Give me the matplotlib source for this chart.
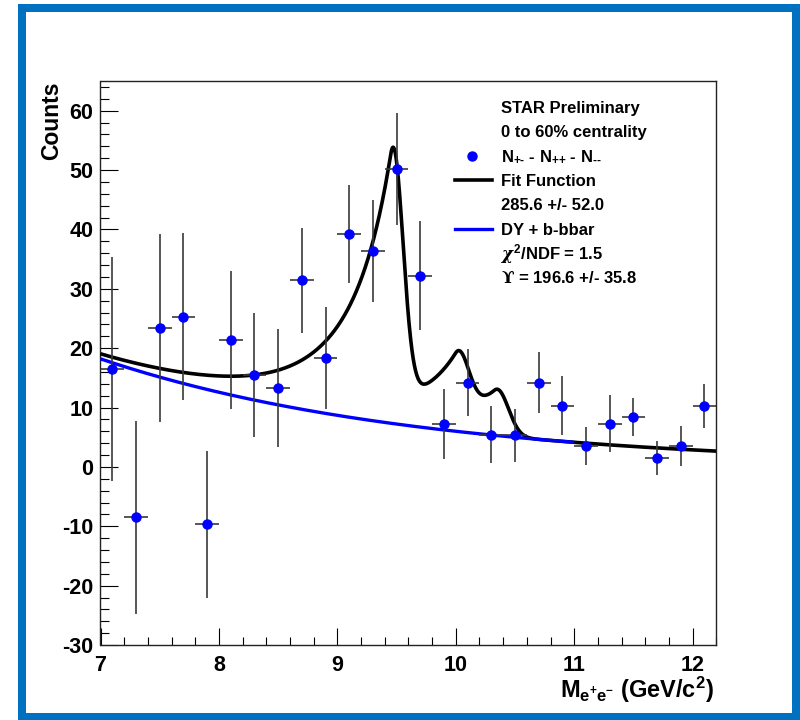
import numpy as np
import matplotlib
matplotlib.use('Agg')
import matplotlib.pyplot as plt
from matplotlib.patches import Rectangle
from matplotlib.lines import Line2D

plt.rcParams['font.family'] = ['Liberation Sans', 'DejaVu Sans']
plt.rcParams['font.weight'] = 'bold'
plt.rcParams['mathtext.fontset'] = 'custom'
plt.rcParams['mathtext.rm'] = 'Liberation Sans:bold'
plt.rcParams['mathtext.bf'] = 'Liberation Sans:bold'
plt.rcParams['mathtext.it'] = 'DejaVu Serif:italic'
plt.rcParams['mathtext.sf'] = 'DejaVu Serif'

# ---------------- data ----------------
mass_bins = [7.1, 7.3, 7.5, 7.7, 7.9, 8.1, 8.3, 8.5, 8.7, 8.9, 9.1, 9.3, 9.5,
             9.7, 9.9, 10.1, 10.3, 10.5, 10.7, 10.9, 11.1, 11.3, 11.5, 11.7,
             11.9, 12.1]
counts = [16.5, -8.5, 23.4, 25.3, -9.7, 21.4, 15.5, 13.3, 31.4, 18.3, 39.2,
          36.4, 50.2, 32.2, 7.3, 14.2, 5.4, 5.3, 14.2, 10.3, 3.5, 7.3, 8.4,
          1.5, 3.5, 10.3]
count_err = [18.8, 16.3, 15.9, 14.1, 12.4, 11.6, 10.5, 10.0, 8.9, 8.6, 8.2,
             8.6, 9.4, 9.2, 5.9, 5.7, 4.8, 4.5, 5.1, 5.0, 3.2, 4.8, 3.2, 2.9,
             3.4, 3.7]
bin_half_width = 0.1

# fit-function parameters
bg_norm = 18.2          # DY + b-bbar value at 7 GeV
bg_slope = 0.37
bg_x0 = 7.0
ups_mass = [9.47, 10.02, 10.35]
ups_amp = [42.5, 10.0, 7.8]
ups_sigma = [0.085, 0.09, 0.095]
cb_alpha = 0.25
cb_n = 4.0
fit_range = (7.0, 12.2)
dy_range = (7.0, 11.0)

x_ticks = [7, 8, 9, 10, 11, 12]
y_ticks = [-30, -20, -10, 0, 10, 20, 30, 40, 50, 60]

legend_lines = ['STAR Preliminary', '0 to 60% centrality',
                r'N$_{\text{+-}}$ - N$_{\text{++}}$ - N$_{\text{--}}$',
                'Fit Function', '285.6 +/- 52.0', 'DY + b-bbar',
                r'$\chi^{\rm 2}$/NDF = 1.5', r'$\mathsf{ϒ}$ = 196.6 +/- 35.8']


def background(x):
    return bg_norm * np.exp(-bg_slope * (x - bg_x0))


def crystal_ball(x, m, s):
    t = (x - m) / s
    out = np.exp(-0.5 * t ** 2)
    a = cb_alpha
    A = (cb_n / a) ** cb_n * np.exp(-0.5 * a * a)
    B = cb_n / a - a
    tail = t < -a
    out[tail] = A * (B - t[tail]) ** (-cb_n)
    return out


def fit_function(x):
    y = background(x)
    for m, amp, s in zip(ups_mass, ups_amp, ups_sigma):
        y = y + amp * crystal_ball(x, m, s)
    return y


W, H = 800, 720
fig = plt.figure(figsize=(8, 7.2), dpi=100)
fig.patch.set_facecolor('white')

ax = fig.add_axes([100.5 / W, 1 - 645 / H, (716.3 - 100.5) / W, (645 - 81) / H])

xf = np.linspace(fit_range[0], fit_range[1], 1500)
xb = np.linspace(dy_range[0], dy_range[1], 800)
ax.plot(xf, fit_function(xf), color='black', lw=2.6, zorder=3,
        solid_capstyle='butt')
ax.plot(xb, background(xb), color='#0000ff', lw=2.4, zorder=4,
        solid_capstyle='butt')

ax.errorbar(mass_bins, counts, yerr=count_err, xerr=bin_half_width,
            fmt='none', ecolor='#3a3a3a', elinewidth=1.2, capsize=0,
            zorder=5)
ax.plot(mass_bins, counts, 'o', color='#0000ff', ms=6.5, mec='#0000ff',
        zorder=6, ls='none')

ax.set_xlim(7, 12.2)
ax.set_ylim(-30, 65)
ax.set_xticks(x_ticks)
ax.set_yticks(y_ticks)
ax.set_xticklabels([str(v) for v in x_ticks])
ax.set_yticklabels([str(v) for v in y_ticks])
ax.xaxis.set_minor_locator(matplotlib.ticker.MultipleLocator(0.2))
ax.yaxis.set_minor_locator(matplotlib.ticker.MultipleLocator(2))
ax.tick_params(axis='both', which='both', direction='in', top=False,
               right=False, width=0.8, color='black')
ax.tick_params(axis='x', which='major', length=12.5, pad=7, labelsize=15.5)
ax.tick_params(axis='x', which='minor', length=6)
ax.tick_params(axis='y', which='major', length=13.3, pad=5, labelsize=15.5)
ax.tick_params(axis='y', which='minor', length=6.5)
for sp in ax.spines.values():
    sp.set_linewidth(1.0)
    sp.set_color('#222222')

# axis titles
fig.text(52 / W, 1 - 82 / H, 'Counts', rotation=90, ha='center', va='top',
         fontsize=16.5, fontweight='bold')
fig.text(714 / W, 1 - 690 / H, r'M$_{\rm e^{+}e^{-}}$ (GeV/c$^{\rm 2}$)',
         ha='right', va='center', fontsize=17, fontweight='bold')

# legend
y0, dy = 106.7, 24.4
for i, txt in enumerate(legend_lines):
    yc = y0 + i * dy
    fig.text(501 / W, 1 - (yc + 5.8) / H, txt, ha='left', va='baseline',
             fontsize=12, fontweight='bold')
fig.add_artist(Line2D([471.7 / W], [1 - (y0 + 2 * dy) / H], marker='o',
                      color='#0000ff', ms=6.5, ls='none'))
fig.add_artist(Line2D([455 / W, 492 / W], [1 - (y0 + 3 * dy) / H] * 2,
                      color='black', lw=2.6))
fig.add_artist(Line2D([455 / W, 492 / W], [1 - (y0 + 5 * dy) / H] * 2,
                      color='#0000ff', lw=2.4))

# blue slide border
border = '#0070c0'
for (x0, y0b, x1, y1) in [(18, 3.5, 25.5, 720), (18, 3.5, 800, 11.5),
                          (792, 3.5, 800, 720), (18, 713, 800, 720)]:
    fig.add_artist(Rectangle((x0 / W, 1 - y1 / H), (x1 - x0) / W,
                             (y1 - y0b) / H, transform=fig.transFigure,
                             facecolor=border, edgecolor='none'))

fig.savefig('out.png', dpi=100)
